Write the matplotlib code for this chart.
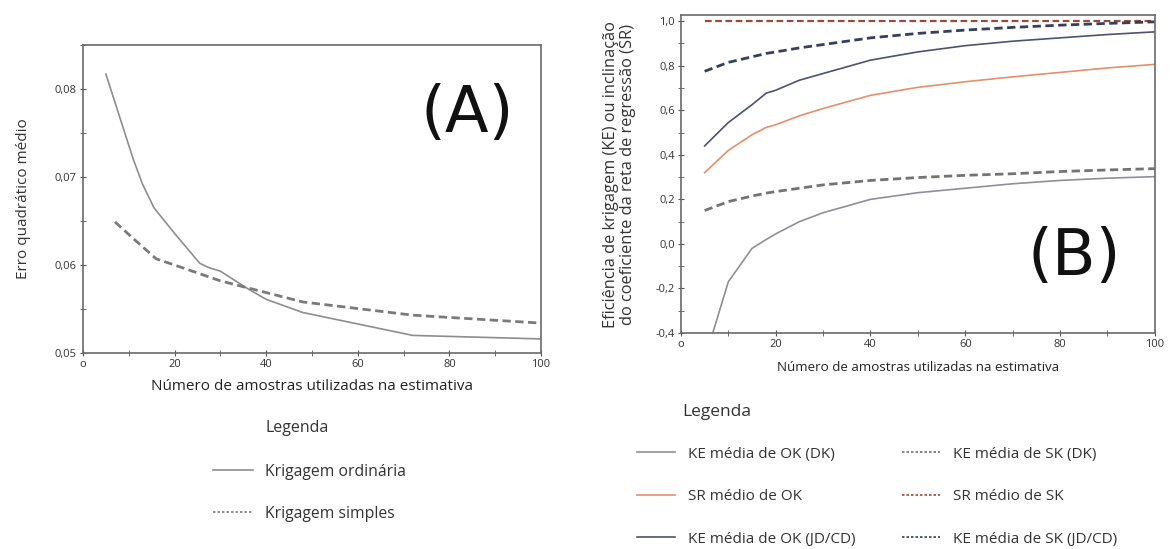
import matplotlib.pyplot as plt
from matplotlib.lines import Line2D
from matplotlib.ticker import MultipleLocator, FuncFormatter

plt.rcParams['font.family'] = ['Open Sans', 'DejaVu Sans']

# (A) erro quadrático médio
x_ok = [5, 11, 13, 15.5, 20, 25.5, 27.5, 30, 36, 40, 48, 72, 100]
eqm_ok = [0.0817, 0.0720, 0.0692, 0.0665, 0.0636, 0.0602, 0.0597, 0.0593, 0.0573, 0.0561, 0.0546, 0.0520, 0.0516]
x_sk = [7, 11, 16, 20, 30, 48, 72, 100]
eqm_sk = [0.0649, 0.0630, 0.0607, 0.0600, 0.0582, 0.0558, 0.0543, 0.0534]

# (B) eficiência de krigagem / inclinação da regressão
x_b = [5, 10, 15, 18, 20, 25, 30, 40, 50, 60, 70, 80, 90, 100]
ke_ok_dk = [-0.52, -0.17, -0.02, 0.02, 0.045, 0.10, 0.14, 0.20, 0.23, 0.25, 0.27, 0.285, 0.295, 0.302]
ke_sk_dk = [0.15, 0.19, 0.215, 0.228, 0.235, 0.25, 0.265, 0.285, 0.298, 0.308, 0.315, 0.325, 0.332, 0.338]
sr_ok = [0.32, 0.42, 0.49, 0.523, 0.535, 0.575, 0.608, 0.667, 0.703, 0.728, 0.75, 0.77, 0.79, 0.806]
sr_sk = [1.0] * len(x_b)
ke_ok_jd = [0.44, 0.545, 0.625, 0.677, 0.69, 0.735, 0.765, 0.825, 0.862, 0.89, 0.91, 0.925, 0.94, 0.952]
ke_sk_jd = [0.775, 0.815, 0.84, 0.855, 0.862, 0.88, 0.895, 0.925, 0.945, 0.96, 0.972, 0.982, 0.99, 0.997]

TRACO = (0, (3, 1.6))        # tracejado das curvas
TRACO_LEG = (0, (1.5, 1.2))  # tracejado miúdo da legenda


def fmt_y(casas):
    return FuncFormatter(lambda v, p: f"{v:.{casas}f}".replace(".", ","))


def fmt_x(v, p):
    return "o" if v == 0 else f"{v:.0f}"


def estilo(ax):
    for s in ax.spines.values():
        s.set_color("#6a6a6a")
        s.set_linewidth(1.2)
    ax.tick_params(which="both", direction="inout", colors="#555555", labelsize=8,
                   labelcolor="#333333", pad=2, length=5)
    ax.xaxis.set_major_locator(MultipleLocator(20))
    ax.xaxis.set_minor_locator(MultipleLocator(10))
    ax.xaxis.set_major_formatter(FuncFormatter(fmt_x))


fig = plt.figure(figsize=(11.7, 5.49), dpi=100)

# Painel A
axA = fig.add_axes([0.0709, 0.357, 0.3915, 0.561])
axA.plot(x_ok, eqm_ok, color="#8e8e8e", lw=1.2)
axA.plot(x_sk, eqm_sk, color="#7a7a7a", lw=2.0, ls=TRACO)
axA.set_xlim(0, 100)
axA.set_ylim(0.05, 0.085)
estilo(axA)
axA.yaxis.set_major_locator(MultipleLocator(0.01))
axA.yaxis.set_minor_locator(MultipleLocator(0.005))
axA.yaxis.set_major_formatter(fmt_y(2))
axA.set_ylabel("Erro quadrático médio", fontsize=11, color="#333333", labelpad=17)
axA.set_xlabel("Número de amostras utilizadas na estimativa", fontsize=11, color="#222222", labelpad=6)
axA.text(0.838, 0.776, "(A)", transform=axA.transAxes, fontsize=46, ha="center", va="center",
         family="DejaVu Sans", color="#111111")

fig.text(0.227, 0.2204, "Legenda", fontsize=11.5, color="#333333", va="center")
legA = [Line2D([], [], color="#8e8e8e", lw=1.2),
        Line2D([], [], color="#7a7a7a", lw=1.2, ls=TRACO_LEG)]
fig.legend(legA, ["Krigagem ordinária", "Krigagem simples"], loc="upper left",
           bbox_to_anchor=(0.175, 0.170), frameon=False, fontsize=11.3, labelspacing=1.68,
           handlelength=2.55, handletextpad=0.76, labelcolor="#333333", borderpad=0)

# Painel B
axB = fig.add_axes([0.582, 0.3934, 0.405, 0.579])
axB.plot(x_b, ke_ok_dk, color="#8f8f98", lw=1.2)
axB.plot(x_b, ke_sk_dk, color="#737373", lw=2.0, ls=TRACO)
axB.plot(x_b, sr_ok, color="#e3906c", lw=1.2)
axB.plot(x_b, sr_sk, color="#9a4a3c", lw=1.6, ls=TRACO)
axB.plot(x_b, ke_ok_jd, color="#4c5270", lw=1.2)
axB.plot(x_b, ke_sk_jd, color="#363f5e", lw=2.0, ls=TRACO)
axB.set_xlim(0, 100)
axB.set_ylim(-0.4, 1.027)
estilo(axB)
axB.yaxis.set_major_locator(MultipleLocator(0.2))
axB.yaxis.set_minor_locator(MultipleLocator(0.1))
axB.yaxis.set_major_formatter(fmt_y(1))
axB.set_ylabel("Eficiência de krigagem (KE) ou inclinação\ndo coeficiente da reta de regressão (SR)",
               fontsize=11.8, color="#333333", labelpad=14, linespacing=1.05)
axB.set_xlabel("Número de amostras utilizadas na estimativa", fontsize=9.6, color="#222222", labelpad=8)
axB.text(0.83, 0.239, "(B)", transform=axB.transAxes, fontsize=46, ha="center", va="center",
         family="DejaVu Sans", color="#111111")

fig.text(0.583, 0.2495, "Legenda", fontsize=12.5, color="#333333", va="center")
legB = [Line2D([], [], color="#8f8f98", lw=1.2),
        Line2D([], [], color="#e3906c", lw=1.2),
        Line2D([], [], color="#4c5270", lw=1.2),
        Line2D([], [], color="#737373", lw=1.2, ls=TRACO_LEG),
        Line2D([], [], color="#9a4a3c", lw=1.2, ls=TRACO_LEG),
        Line2D([], [], color="#363f5e", lw=1.2, ls=TRACO_LEG)]
fig.legend(legB, ["KE média de OK (DK)", "SR médio de OK", "KE média de OK (JD/CD)",
                  "KE média de SK (DK)", "SR médio de SK", "KE média de SK (JD/CD)"],
           loc="upper left", bbox_to_anchor=(0.538, 0.200), ncol=2, frameon=False,
           fontsize=11, labelspacing=1.8, handlelength=2.5, handletextpad=0.85,
           columnspacing=3.0, labelcolor="#333333", borderpad=0)

fig.savefig("out.png", dpi=100)
